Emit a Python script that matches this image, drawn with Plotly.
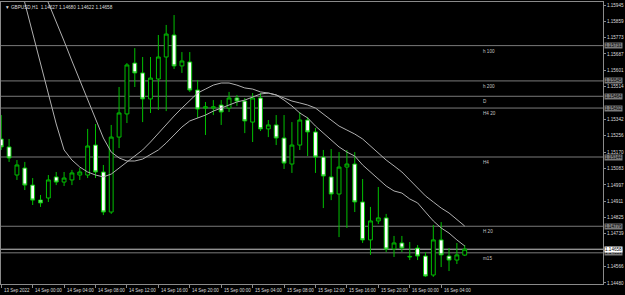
import plotly.graph_objects as go

SYMBOL = "GBPUSD,H1"
BARS = list(range(60))
OPEN = [1.15239, 1.15197, 1.15049, 1.15086, 1.14996, 1.14917, 1.14928, 1.15039, 1.15012, 1.15023,
        1.15049, 1.15049, 1.15207, 1.15065, 1.14854, 1.15249, 1.15371, 1.15639, 1.15587, 1.15450,
        1.15555, 1.15671, 1.15787, 1.15624, 1.15645, 1.15497, 1.15402, 1.15402, 1.15418, 1.15402,
        1.15455, 1.15439, 1.15328, 1.15455, 1.15292, 1.15313, 1.15244, 1.15107, 1.15207, 1.15339,
        1.15276, 1.15144, 1.15039, 1.14949, 1.15091, 1.15107, 1.14907, 1.14707, 1.14807, 1.14823,
        1.14659, 1.14691, 1.14617, 1.14664, 1.14622, 1.14522, 1.14707, 1.14622, 1.14601, 1.14627]
HIGH = [1.15365, 1.15239, 1.15128, 1.15118, 1.15033, 1.14944, 1.15049, 1.15065, 1.15065, 1.15076,
        1.15086, 1.15292, 1.15318, 1.15102, 1.15313, 1.15513, 1.15639, 1.15718, 1.15671, 1.15671,
        1.15787, 1.15840, 1.15892, 1.15697, 1.15697, 1.15550, 1.15434, 1.15444, 1.15444, 1.15487,
        1.15471, 1.15455, 1.15481, 1.15481, 1.15339, 1.15365, 1.15365, 1.15328, 1.15381, 1.15355,
        1.15297, 1.15181, 1.15186, 1.15170, 1.15181, 1.15170, 1.15028, 1.14881, 1.14986, 1.14844,
        1.14728, 1.14728, 1.14696, 1.14680, 1.14643, 1.14786, 1.14801, 1.14664, 1.14691, 1.14680]
LOW = [1.15181, 1.15118, 1.15023, 1.14970, 1.14891, 1.14881, 1.14907, 1.14996, 1.14991, 1.14996,
       1.15023, 1.15033, 1.15033, 1.14838, 1.14844, 1.15191, 1.15323, 1.15513, 1.15328, 1.15376,
       1.15392, 1.15386, 1.15608, 1.15587, 1.15487, 1.15350, 1.15260, 1.15365, 1.15313, 1.15381,
       1.15413, 1.15270, 1.15223, 1.15281, 1.15249, 1.15207, 1.15081, 1.15060, 1.15181, 1.15149,
       1.15060, 1.14875, 1.14917, 1.14722, 1.14770, 1.14854, 1.14691, 1.14628, 1.14791, 1.14643,
       1.14617, 1.14643, 1.14601, 1.14601, 1.14512, 1.14512, 1.14564, 1.14543, 1.14580, 1.14622]
CLOSE = [1.15197, 1.15139, 1.15102, 1.14996, 1.14917, 1.14902, 1.15023, 1.15012, 1.15033, 1.15060,
         1.15065, 1.15202, 1.15065, 1.14854, 1.15249, 1.15376, 1.15629, 1.15587, 1.15450, 1.15560,
         1.15671, 1.15792, 1.15624, 1.15650, 1.15497, 1.15397, 1.15408, 1.15408, 1.15381, 1.15455,
         1.15439, 1.15334, 1.15455, 1.15292, 1.15313, 1.15244, 1.15112, 1.15207, 1.15339, 1.15276,
         1.15144, 1.15044, 1.14949, 1.15091, 1.15107, 1.14907, 1.14707, 1.14807, 1.14823, 1.14659,
         1.14691, 1.14664, 1.14620, 1.14622, 1.14517, 1.14707, 1.14628, 1.14601, 1.14628, 1.14658]
MA_FAST = [1.16435, 1.16277, 1.16114, 1.15956, 1.15798, 1.15639, 1.15476, 1.15318, 1.15181, 1.15128,
           1.15091, 1.15065, 1.15049, 1.15039, 1.15054, 1.15086, 1.15118, 1.15149, 1.15181, 1.15223,
           1.15270, 1.15318, 1.15360, 1.15402, 1.15444, 1.15481, 1.15502, 1.15523, 1.15534, 1.15534,
           1.15523, 1.15508, 1.15502, 1.15487, 1.15481, 1.15471, 1.15444, 1.15413, 1.15376, 1.15350,
           1.15307, 1.15270, 1.15234, 1.15197, 1.15170, 1.15149, 1.15102, 1.15065, 1.15023, 1.14991,
           1.14965, 1.14954, 1.14923, 1.14902, 1.14854, 1.14807, 1.14770, 1.14743, 1.14707, 1.14675]
MA_SLOW = [1.16562, 1.16462, 1.16361, 1.16261, 1.16156, 1.16056, 1.15956, 1.15855, 1.15755, 1.15650,
           1.15550, 1.15450, 1.15350, 1.15244, 1.15170, 1.15139, 1.15123, 1.15123, 1.15133, 1.15155,
           1.15181, 1.15218, 1.15260, 1.15302, 1.15334, 1.15350, 1.15365, 1.15386, 1.15402, 1.15418,
           1.15434, 1.15444, 1.15460, 1.15476, 1.15481, 1.15471, 1.15455, 1.15439, 1.15429, 1.15418,
           1.15402, 1.15371, 1.15339, 1.15307, 1.15286, 1.15265, 1.15239, 1.15202, 1.15165, 1.15128,
           1.15097, 1.15065, 1.15023, 1.14981, 1.14939, 1.14907, 1.14875, 1.14849, 1.14812, 1.14780]

TIME_TICK_BARS = [0, 4, 8, 12, 16, 20, 24, 28, 32, 36, 40, 44, 48, 52, 56]
TIME_TICK_LABELS = ["13 Sep 2022", "14 Sep 00:00", "14 Sep 04:00", "14 Sep 08:00", "14 Sep 12:00",
                    "14 Sep 16:00", "14 Sep 20:00", "15 Sep 00:00", "15 Sep 04:00", "15 Sep 08:00",
                    "15 Sep 12:00", "15 Sep 16:00", "15 Sep 20:00", "16 Sep 00:00", "16 Sep 04:00"]
PRICE_TICKS = [1.14480, 1.14566, 1.14739, 1.14825, 1.14911, 1.14997, 1.15083, 1.15170, 1.15256,
               1.15342, 1.15514, 1.15601, 1.15687, 1.15773, 1.15859, 1.15945]
LEVEL_NAMES = ["h 100", "h 200", "D", "H4 20", "H4", "H 20", "m15"]
LEVEL_PRICES = [1.15731, 1.15545, 1.15464, 1.15402, 1.15144, 1.14779, 1.14639]

GREEN = "#00c000"
GRID = "#8a8a8a"
TXT = "#dcdcdc"
FONT = "Liberation Sans"

fig = go.Figure()
fig.add_trace(go.Scatter(x=BARS, y=MA_SLOW, mode="lines", line=dict(color="#b0b0b0", width=1),
                         hoverinfo="skip", showlegend=False))
fig.add_trace(go.Scatter(x=BARS, y=MA_FAST, mode="lines", line=dict(color="#b0b0b0", width=1),
                         hoverinfo="skip", showlegend=False))
fig.add_trace(go.Candlestick(
    x=BARS, open=OPEN, high=HIGH, low=LOW, close=CLOSE,
    increasing=dict(line=dict(color=GREEN, width=1), fillcolor="#000000"),
    decreasing=dict(line=dict(color=GREEN, width=1), fillcolor="#ffffff"),
    whiskerwidth=0, showlegend=False))

shapes = []
for p in LEVEL_PRICES:
    shapes.append(dict(type="line", xref="paper", x0=0, x1=1, yref="y", y0=p, y1=p,
                       line=dict(color="#7a7a7a", width=1), layer="below"))
shapes.append(dict(type="line", xref="paper", x0=0, x1=1, yref="y", y0=CLOSE[-1], y1=CLOSE[-1],
                   line=dict(color="#c8c8c8", width=1), layer="below"))

ann = []
for name, p in zip(LEVEL_NAMES, LEVEL_PRICES):
    ann.append(dict(x=0.797, xref="paper", y=p, yref="y", text=name, showarrow=False,
                    xanchor="left", yanchor="top", yshift=-1,
                    font=dict(family=FONT, size=4.6, color="#c4c4c4")))
    ann.append(dict(x=1, xref="paper", y=p, yref="y", text=f"{p:.5f}", showarrow=False,
                    xanchor="left", yanchor="middle", xshift=1, bgcolor="#7a7a7a",
                    borderpad=0, font=dict(family=FONT, size=4.6, color="#000000")))
ann.append(dict(x=1, xref="paper", y=CLOSE[-1], yref="y", text=f"{CLOSE[-1]:.5f}", showarrow=False,
                xanchor="left", yanchor="middle", xshift=1, bgcolor="#ffffff",
                borderpad=0, font=dict(family=FONT, size=4.6, color="#000000")))
for b, lab in zip(TIME_TICK_BARS, TIME_TICK_LABELS):
    ann.append(dict(x=b, xref="x", y=0, yref="paper", text=lab, showarrow=False,
                    xanchor="left", yanchor="top", xshift=0.5, yshift=-1.5,
                    font=dict(family=FONT, size=4.5, color=TXT)))
title = f"\u25BC {SYMBOL}  {OPEN[-1]:.5f} {HIGH[-1]:.5f} {LOW[-1]:.5f} {CLOSE[-1]:.5f}"
ann.append(dict(x=0, xref="paper", y=1, yref="paper", text=title, showarrow=False,
                xanchor="left", yanchor="top", xshift=2, yshift=-1,
                font=dict(family=FONT, size=4.7, color=TXT)))

fig.update_layout(
    width=625, height=295,
    margin=dict(l=1, r=22, t=2, b=11),
    paper_bgcolor="#000000", plot_bgcolor="#000000",
    showlegend=False,
    shapes=shapes, annotations=ann,
    xaxis=dict(range=[-0.03, 76.6], showgrid=False, zeroline=False, showline=True, mirror=True,
               linecolor=GRID, linewidth=1, ticks="outside", ticklen=3, tickcolor=GRID,
               tickvals=TIME_TICK_BARS, showticklabels=False, rangeslider=dict(visible=False),
               fixedrange=True),
    yaxis=dict(range=[1.144747, 1.159609], side="right", showgrid=False, zeroline=False,
               showline=True, mirror=True, linecolor=GRID, linewidth=1, ticks="outside",
               ticklen=2, tickcolor=GRID, tickvals=PRICE_TICKS,
               ticktext=[f"{v:.5f}" for v in PRICE_TICKS],
               tickfont=dict(family=FONT, size=4.6, color=TXT), fixedrange=True),
)

fig.write_html("out.html")
